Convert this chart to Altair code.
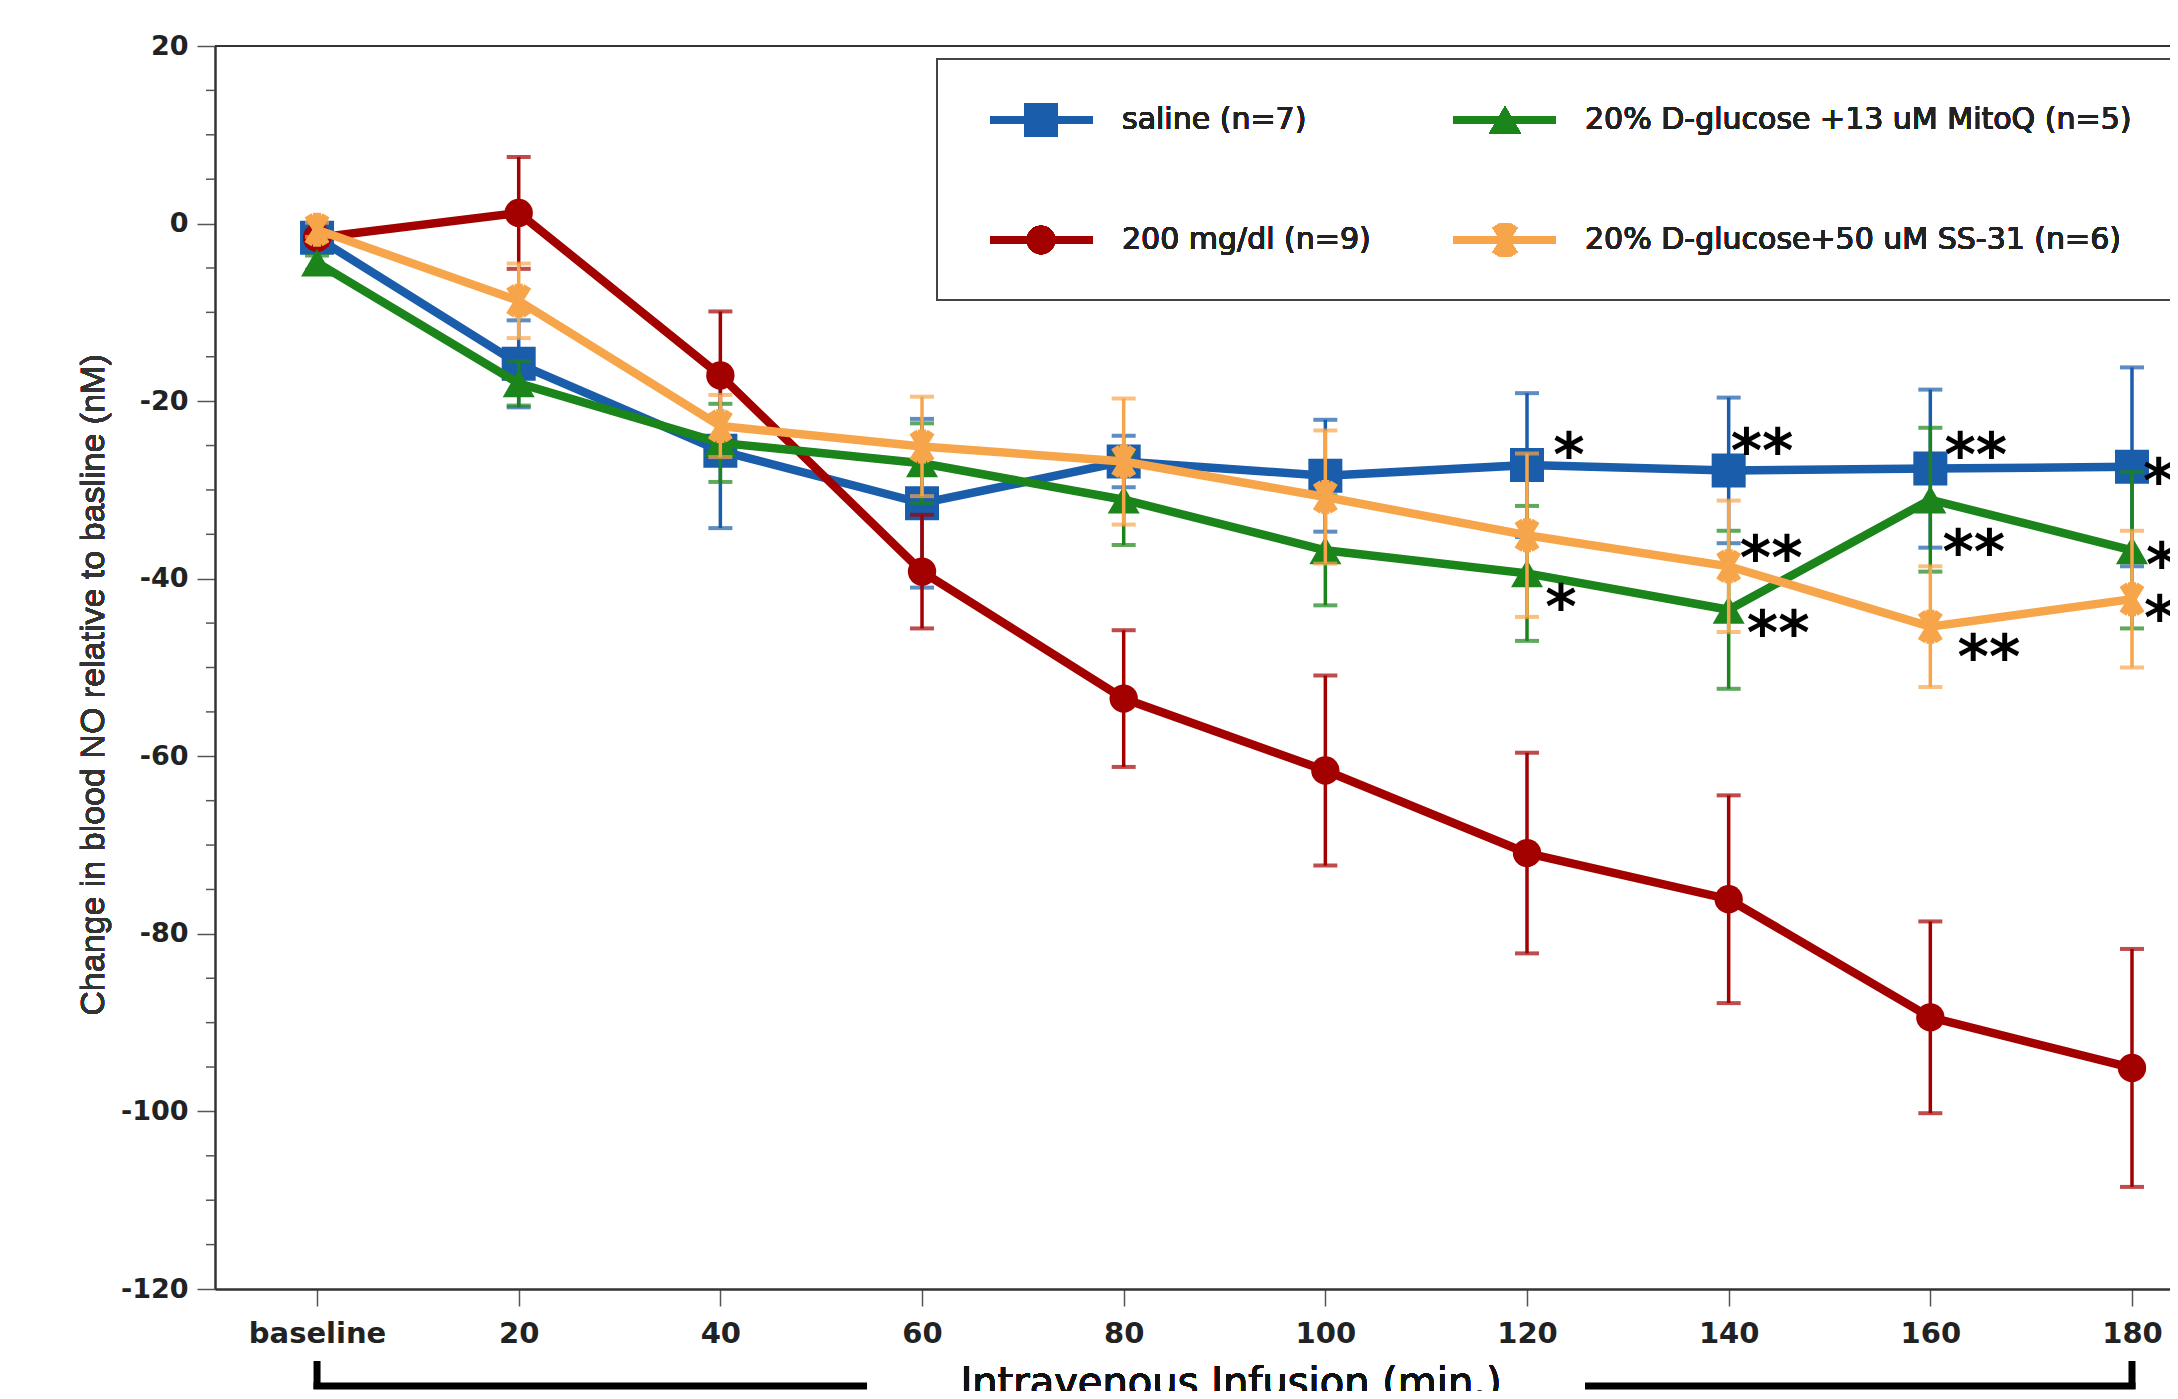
import math
import altair as alt
import pandas as pd

# ---------------- data ----------------
times = [0, 20, 40, 60, 80, 100, 120, 140, 160, 180]
x_tick_labels = ["baseline", "20", "40", "60", "80", "100", "120", "140", "160", "180"]
y_tick_values = [-120, -100, -80, -60, -40, -20, 0, 20]
y_tick_labels = ["-120", "-100", "-80", "-60", "-40", "-20", "0", "20"]

series = ["saline (n=7)", "200 mg/dl (n=9)",
          "20% D-glucose +13 uM MitoQ (n=5)", "20% D-glucose+50 uM SS-31 (n=6)"]

saline_mean = [-1.6, -15.8, -25.6, -31.5, -26.8, -28.4, -27.2, -27.8, -27.6, -27.4]
saline_se = [0.8, 4.9, 8.7, 9.5, 2.9, 6.3, 8.1, 8.2, 8.9, 11.2]

glucose_mean = [-1.6, 1.2, -17.1, -39.2, -53.5, -61.6, -70.9, -76.1, -89.4, -95.1]
glucose_se = [0.8, 6.3, 7.2, 6.4, 7.7, 10.7, 11.3, 11.7, 10.8, 13.4]

mitoq_mean = [-4.4, -18.0, -24.7, -27.0, -31.1, -36.8, -39.4, -43.5, -31.1, -36.8]
mitoq_se = [0.8, 2.5, 4.4, 4.5, 5.1, 6.2, 7.6, 8.9, 8.1, 8.8]

ss31_mean = [-0.7, -8.7, -22.8, -25.1, -26.8, -30.8, -35.1, -38.6, -45.4, -42.3]
ss31_se = [0.8, 4.2, 3.5, 5.6, 7.1, 7.5, 9.2, 7.4, 6.8, 7.7]

# significance marks (left edge in minutes, centre value in nM)
sig_time = [122.6, 121.8, 140.2, 141.1, 141.8, 161.4, 161.2, 162.7, 181.1, 181.4, 181.2]
sig_value = [-24.6, -41.7, -24.1, -36.2, -44.6, -24.6, -35.5, -47.3, -27.5, -37.0, -43.0]
sig_label = ["*", "*", "**", "**", "**", "**", "**", "**", "**", "**", "**"]

# bracket under the x axis (minutes)
bracket_left = [0, 54.2]
bracket_right = [126.1, 180]

colors = ["#1A5DAB", "#A30000", "#1B841B", "#F7A54B"]


# ---------------- marker shapes ----------------
def bar(angle_deg, L=1.0, t=0.24):
    a = math.radians(angle_deg)
    ux, uy = math.cos(a) * L, -math.sin(a) * L
    px, py = math.sin(a) * t, math.cos(a) * t
    pts = [(ux + px, uy + py), (ux - px, uy - py), (-ux - px, -uy - py), (-ux + px, -uy + py)]
    return "M" + " L".join(f"{x:.3f},{y:.3f}" for x, y in pts) + " Z"


star_path = " ".join(bar(a) for a in (90, 58, 122))
shapes = ["square", "circle", "triangle-up", star_path]
sizes = [1156, 804, 1024, 1156]

means = [saline_mean, glucose_mean, mitoq_mean, ss31_mean]
ses = [saline_se, glucose_se, mitoq_se, ss31_se]

# ---------------- scales / axes ----------------
W, H = 1955, 1243
x_scale = alt.Scale(domain=[-10.12, 183.77], nice=False, zero=False)
y_scale = alt.Scale(domain=[-120, 20], nice=False, zero=False)

x_expr = "[" + ",".join(f"'{s}'" for s in x_tick_labels) + "][indexof([" + ",".join(
    str(t) for t in times) + "], datum.value)]"
y_expr = "[" + ",".join(f"'{s}'" for s in y_tick_labels) + "][indexof([" + ",".join(
    str(v) for v in y_tick_values) + "], datum.value)]"

x_axis = alt.Axis(values=times, labelExpr=x_expr, tickSize=17, labelPadding=13,
                  title=None, grid=False, labelFontSize=29)
y_axis = alt.Axis(values=y_tick_values, labelExpr=y_expr, tickSize=18, labelPadding=9,
                  title=None, grid=False)


def X(field):
    return alt.X(f"{field}:Q", scale=x_scale, axis=x_axis)


def Y(field):
    return alt.Y(f"{field}:Q", scale=y_scale, axis=y_axis)


layers = []

# minor y ticks every 5
minor = pd.DataFrame({"v": [v for v in range(-120, 21, 5) if v % 20 != 0]})
layers.append(alt.Chart(minor).mark_rule(color="#555", strokeWidth=1.5).encode(
    y=Y("v"), x=alt.value(-9), x2=alt.value(0)))

# top frame line
layers.append(alt.Chart(minor).mark_rule(color="#333", strokeWidth=2).encode(
    x=alt.value(0), x2=alt.value(W), y=alt.value(0)))

for i, name in enumerate(series):
    df = pd.DataFrame({"time": times, "mean": means[i],
                       "lo": [m - s for m, s in zip(means[i], ses[i])],
                       "hi": [m + s for m, s in zip(means[i], ses[i])]})
    base = alt.Chart(df)
    c = colors[i]
    layers.append(base.mark_line(color=c, strokeWidth=8.5).encode(x=X("time"), y=Y("mean")))
    layers.append(base.mark_rule(color=c, strokeWidth=3.5).encode(
        x=X("time"), y=Y("lo"), y2="hi:Q"))
    for f in ("lo", "hi"):
        layers.append(base.mark_tick(color=c, thickness=4, size=24, orient="horizontal").encode(
            x=X("time"), y=Y(f)))
    layers.append(base.mark_point(shape=shapes[i], filled=True, size=sizes[i], color=c,
                                  opacity=1).encode(x=X("time"), y=Y("mean")))

# significance asterisks
sig = pd.DataFrame({"t": sig_time, "v": sig_value, "label": sig_label})
layers.append(alt.Chart(sig).mark_text(font="DejaVu Sans", fontWeight="bold", fontSize=60,
                                       color="#000", align="left", baseline="alphabetic",
                                       dy=34).encode(x=X("t"), y=Y("v"), text="label:N"))

# bracket
br = pd.DataFrame({"a": [bracket_left[0], bracket_right[0]], "b": [bracket_left[1], bracket_right[1]]})
layers.append(alt.Chart(br).mark_rule(color="#000", strokeWidth=7, strokeCap="square").encode(
    x=X("a"), x2="b:Q", y=alt.value(1340)))
ends = pd.DataFrame({"a": [times[0], times[-1]]})
layers.append(alt.Chart(ends).mark_rule(color="#000", strokeWidth=7).encode(
    x=X("a"), y=alt.value(1315), y2=alt.value(1343)))

# axis titles
layers.append(alt.Chart(minor).mark_text(text="Intravenous Infusion (min.)", font="DejaVu Sans",
                                         fontSize=40, color="#111", align="center",
                                         baseline="alphabetic").encode(
    x=alt.value(1016), y=alt.value(1350)))
layers.append(alt.Chart(minor).mark_text(text="Change in blood NO relative to basline (nM)",
                                         font="Liberation Sans", fontSize=34, color="#333",
                                         angle=270, align="center", baseline="middle").encode(
    x=alt.value(-121), y=alt.value(639)))

# legend (manual, two columns)
layers.append(alt.Chart(minor).mark_rect(fill="white", stroke="#444", strokeWidth=2).encode(
    x=alt.value(722), x2=alt.value(2200), y=alt.value(13), y2=alt.value(254)))
col_line = [(775, 878), (1238, 1341)]
col_marker = [826, 1290]
col_text = [907, 1370]
row_y = [74, 194]
slots = [(0, 0), (0, 1), (1, 0), (1, 1)]
for i, name in enumerate(series):
    col, row = slots[i]
    c = colors[i]
    layers.append(alt.Chart(minor).mark_rule(color=c, strokeWidth=8).encode(
        x=alt.value(col_line[col][0]), x2=alt.value(col_line[col][1]), y=alt.value(row_y[row])))
    layers.append(alt.Chart(minor).mark_point(shape=shapes[i], filled=True, size=sizes[i],
                                              color=c, opacity=1).encode(
        x=alt.value(col_marker[col]), y=alt.value(row_y[row])))
    layers.append(alt.Chart(minor).mark_text(text=name, font="DejaVu Sans", fontSize=30,
                                             color="#222", align="left", baseline="middle").encode(
        x=alt.value(col_text[col]), y=alt.value(row_y[row])))

chart = alt.layer(*layers).properties(
    width=W, height=H,
    autosize=alt.AutoSizeParams(type="none"),
    padding={"left": 207, "top": 38, "right": 0, "bottom": 102},
    background="white",
).configure_view(stroke=None).configure_axis(
    domainColor="#333", domainWidth=2.5, tickColor="#555", tickWidth=1.5,
    labelFont="DejaVu Sans", labelFontWeight="bold", labelFontSize=27, labelColor="#222",
)

chart.save("out.html", embed_options={"renderer": "svg", "actions": False})
